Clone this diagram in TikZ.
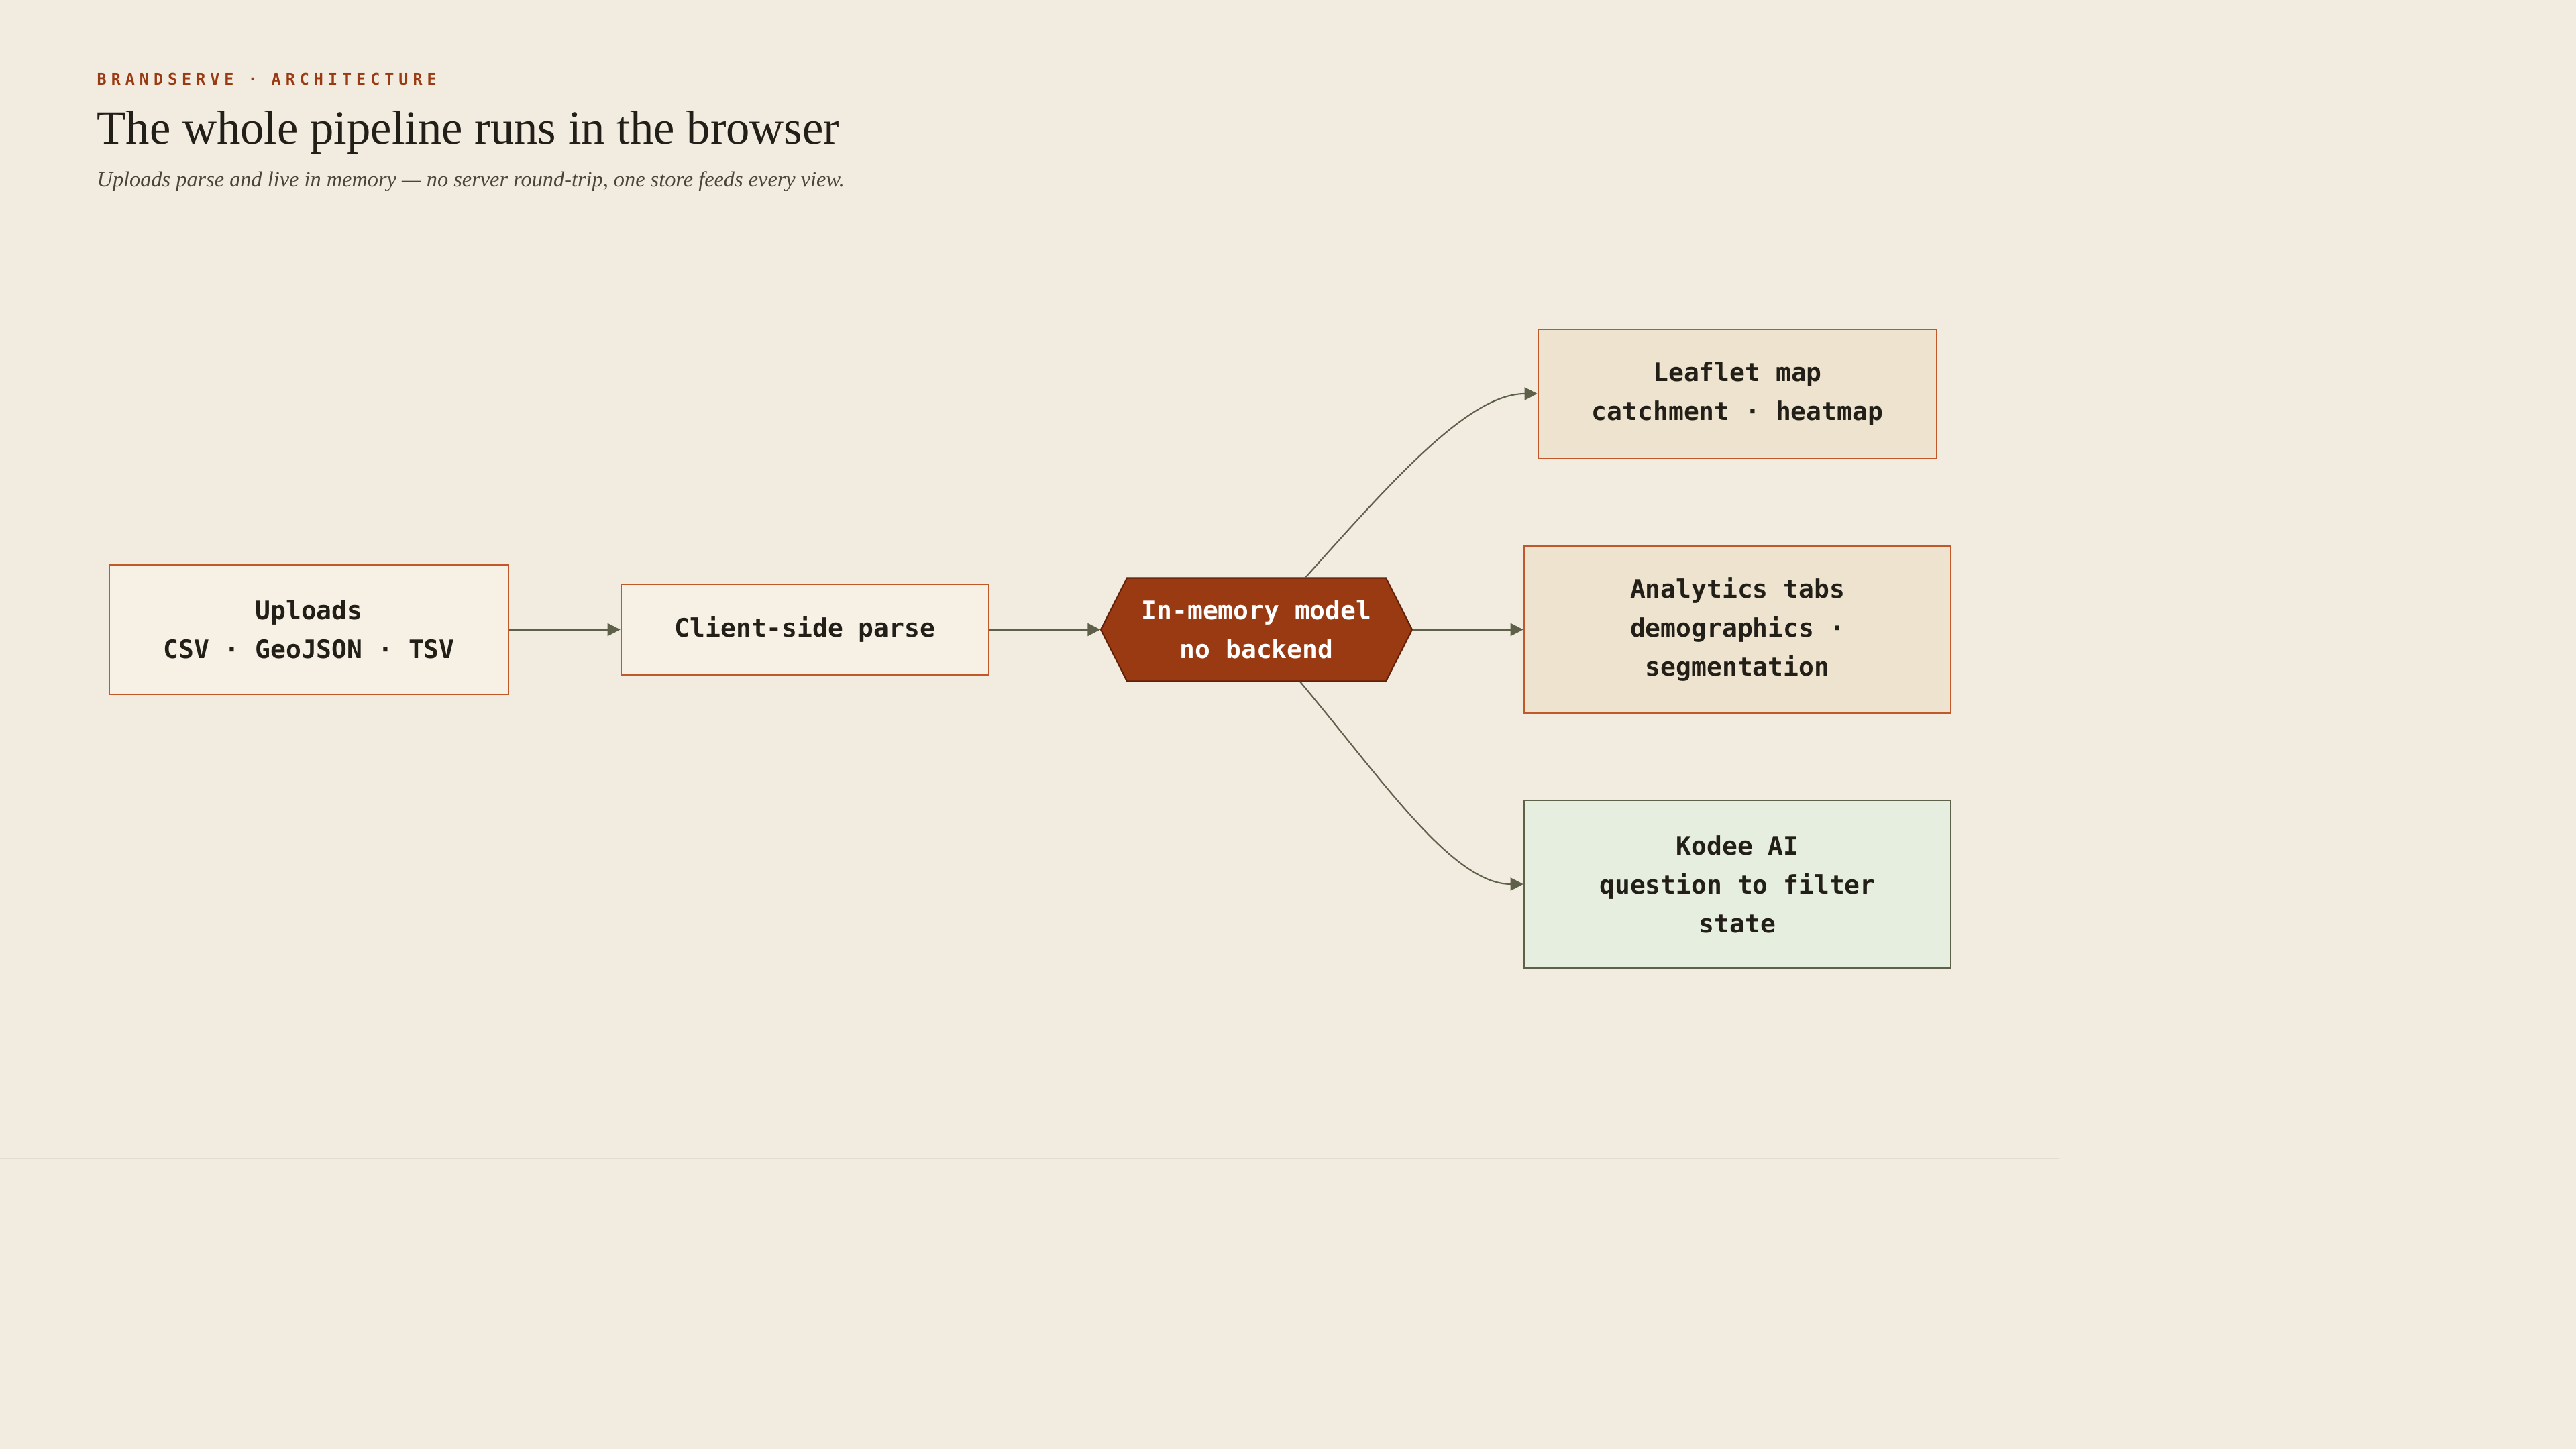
\documentclass[tikz,border=0pt]{standalone}
\usepackage{fontspec}
\setmainfont{Liberation Serif}
\setmonofont{DejaVu Sans Mono}
\newfontfamily\kickerfont[LetterSpace=30]{DejaVu Sans Mono}
\usetikzlibrary{arrows.meta, positioning, calc}
\definecolor{pagebg}{HTML}{F2EBE0}
\definecolor{cream}{HTML}{F7F0E4}
\definecolor{sand}{HTML}{EEE3CF}
\definecolor{sage}{HTML}{E6EEDF}
\definecolor{rust}{HTML}{C0582A}
\definecolor{brick}{HTML}{9A3A12}
\definecolor{brickdark}{HTML}{5C220B}
\definecolor{olive}{HTML}{5E604A}
\definecolor{ink}{HTML}{221E18}
\definecolor{inksoft}{HTML}{4A4538}
\newcommand\boxfont{\fontsize{10.8}{16.5}\selectfont\ttfamily\bfseries}

\begin{document}
\begin{tikzpicture}[
  stagebox/.style={rectangle, draw=rust, line width=0.75pt, fill=cream,
                   align=center, font=\boxfont, text=ink, inner sep=0pt},
  viewbox/.style={stagebox, fill=sand},
  aibox/.style={stagebox, draw=olive, fill=sage},
  arr/.style={-{Triangle[length=0.19cm, width=0.19cm]}, olive, line width=0.6pt},
]
\useasboundingbox (0,0) rectangle (38.4,21.6);
\fill[pagebg] (0,0) rectangle (38.4,21.6);
\draw[pagebg!93!black, line width=0.3pt] (0,4.33) -- (30.7,4.33);

% === Header ===
\node[anchor=base west, inner sep=0pt, font=\kickerfont\bfseries\fontsize{6.65}{8}\selectfont, text=brick]
  (kicker) at (1.44, 20.33) {BRANDSERVE · ARCHITECTURE};
\node[anchor=base west, inner sep=0pt, font=\fontsize{20.1}{24}\selectfont, text=ink]
  (title) at (1.44, 19.45) {The whole pipeline runs in the browser};
\node[anchor=base west, inner sep=0pt, font=\itshape\fontsize{9.2}{12}\selectfont, text=inksoft]
  (subtitle) at (1.44, 18.81)
  {Uploads parse and live in memory --- no server round-trip, one store feeds every view.};

% === Pipeline ===
\node[stagebox, minimum width=5.95cm, minimum height=1.93cm] (uploads) at (4.605, 12.215)
  {Uploads\\CSV · GeoJSON · TSV};
\node[stagebox, minimum width=5.48cm, minimum height=1.35cm] (parse) at (12.0, 12.215)
  {Client-side parse};

% hexagon: plain node for the text, outline drawn from its corners
\coordinate (hexc) at (18.73, 12.215);
\filldraw[fill=brick, draw=brickdark, line width=0.6pt]
  ($(hexc)+(-2.32,0)$) -- ($(hexc)+(-1.93,0.77)$) -- ($(hexc)+(1.93,0.77)$)
  -- ($(hexc)+(2.32,0)$) -- ($(hexc)+(1.93,-0.77)$) -- ($(hexc)+(-1.93,-0.77)$) -- cycle;
\node[align=center, font=\boxfont, text=white, inner sep=0pt,
      minimum width=4.64cm, minimum height=1.54cm] (model) at (hexc)
  {In-memory model\\no backend};

% === Views ===
\node[viewbox, minimum width=5.94cm, minimum height=1.92cm] (leaflet) at (25.90, 15.73)
  {Leaflet map\\catchment · heatmap};
\node[viewbox, minimum width=6.36cm, minimum height=2.50cm] (analytics) at (25.90, 12.215)
  {Analytics tabs\\demographics ·\\segmentation};
\node[aibox, minimum width=6.36cm, minimum height=2.50cm] (kodee) at (25.90, 8.42)
  {Kodee AI\\question to filter\\state};

% === Connectors ===
\draw[arr] (uploads) -- (parse);
\draw[arr] (parse) -- (model.west);
\draw[arr] (model.east) -- (analytics.west);
\draw[arr] ([xshift=0.73cm]model.north)
  to[out=48, in=180, out looseness=1.1, in looseness=0.6] (leaflet.west);
\draw[arr] ([xshift=0.65cm]model.south)
  to[out=-50, in=180, out looseness=1.1, in looseness=0.6] (kodee.west);

\end{tikzpicture}
\end{document}
